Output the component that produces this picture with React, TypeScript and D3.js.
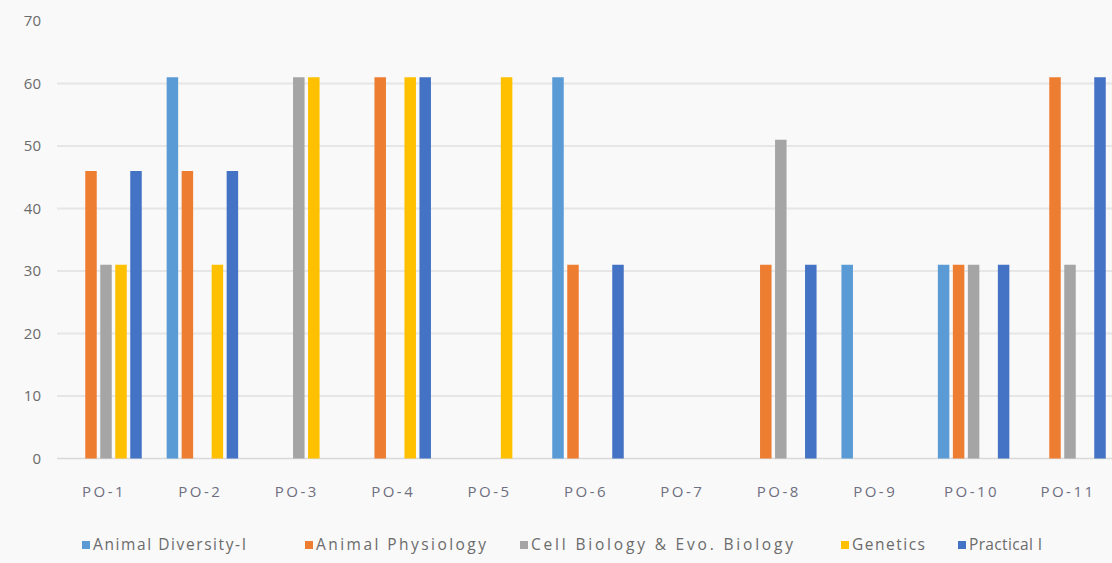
import React from "react";
import * as d3 from "d3";

const categories = ["PO-1", "PO-2", "PO-3", "PO-4", "PO-5", "PO-6", "PO-7", "PO-8", "PO-9", "PO-10", "PO-11"];
const seriesNames = ["Animal Diversity-I", "Animal Physiology", "Cell Biology & Evo. Biology", "Genetics", "Practical I"];
const animalDiversity = [0, 61, 0, 0, 0, 61, 0, 0, 31, 31, 0];
const animalPhysiology = [46, 46, 0, 61, 0, 31, 0, 31, 0, 31, 61];
const cellBiology = [31, 0, 61, 0, 0, 0, 0, 51, 0, 31, 31];
const genetics = [31, 31, 61, 61, 61, 0, 0, 0, 0, 0, 0];
const practical = [46, 46, 0, 61, 0, 31, 0, 31, 0, 31, 61];
const yTicks = [0, 10, 20, 30, 40, 50, 60, 70];
const colors = ["#5B9BD5", "#ED7D31", "#A5A5A5", "#FFC000", "#4472C4"];
const legendX = [82, 305, 520, 841, 958];
const legendTextW = [153, 170, 262, 73, 73];

const seriesValues = [animalDiversity, animalPhysiology, cellBiology, genetics, practical];

export default function App() {
  const W = 1112, H = 563;
  const x = d3.scaleBand<string>().domain(categories).range([57.8, 57.8 + 96.4 * 11]);
  const slot = d3.scaleBand<number>().domain(d3.range(5)).range([0, 75]);
  const groupOffset = (x.bandwidth() - 75) / 2;
  const y = d3.scaleLinear().domain([0, 70]).range([458.5, 21]);
  const barW = 11.5;
  const font = "'Open Sans', 'Noto Sans', sans-serif";
  return (
    <svg width={W} height={H} style={{ position: "absolute", left: 0, top: 0, background: "#f9f9f9" }} fontFamily={font}>
      <rect x={0} y={0} width={W} height={H} fill="#f9f9f9" />
      {yTicks.filter(t => t > 0 && t < 70).map(t => (
        <line key={t} x1={57} x2={W} y1={y(t)} y2={y(t)} stroke="#e6e6e6" strokeWidth={2} />
      ))}
      <line x1={57} x2={W} y1={y(0)} y2={y(0)} stroke="#d9d9d9" strokeWidth={1.5} />
      {yTicks.map(t => (
        <text key={t} x={41} y={y(t)} dy="0.35em" textAnchor="end" fontSize={15} fill="#6b6b6b">{t}</text>
      ))}
      {seriesValues.map((vals, si) => (
        <g key={si}>
          {vals.map((v, ci) => v > 0 ? (
            <rect key={ci}
              x={(x(categories[ci]) as number) + groupOffset + (slot(si) as number) + (slot.bandwidth() - barW) / 2}
              y={y(v)} width={barW} height={y(0) - y(v)} fill={colors[si]} />
          ) : null)}
        </g>
      ))}
      {categories.map(c => (
        <text key={c} x={(x(c) as number) + x.bandwidth() / 2 - 2} y={492} dy="0.35em" textAnchor="middle" fontSize={15} fill="#6f6f80" letterSpacing={2.5}>{c}</text>
      ))}
      {seriesNames.map((n, i) => (
        <g key={n} transform={`translate(${legendX[i]},545)`}>
          <rect x={0} y={-4} width={8} height={8} fill={colors[i]} />
          <text x={11} y={0} dy="0.35em" fontSize={15.5} fill="#6b6b6b" textLength={legendTextW[i]} lengthAdjust="spacing">{n}</text>
        </g>
      ))}
    </svg>
  );
}
